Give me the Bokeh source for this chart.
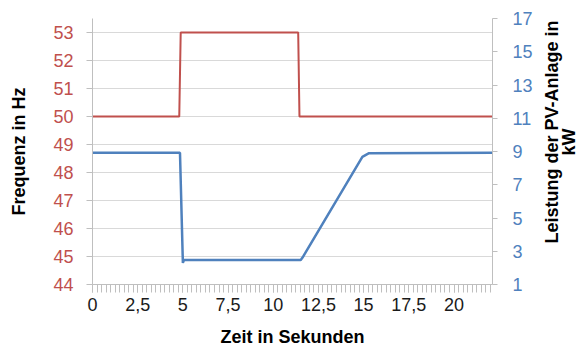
import numpy as np
from math import pi
from bokeh.plotting import figure
from bokeh.layouts import row
from bokeh.models import Range1d, LinearAxis, FixedTicker
from bokeh.core.properties import value
from bokeh.embed import file_html
from bokeh.resources import INLINE

# ---- data ----
time_freq = [0.0, 4.80, 4.88, 11.38, 11.45, 22.13]
freq_hz = [50.0, 50.0, 53.0, 53.0, 50.0, 50.0]

time_power = [0.0, 4.84, 5.00, 5.06, 11.52, 11.62, 14.93, 15.30, 22.13]
power_kw = [8.93, 8.93, 2.30, 2.47, 2.47, 2.62, 8.68, 8.90, 8.93]

x_ticks = [0, 2.5, 5, 7.5, 10, 12.5, 15, 17.5, 20]
x_tick_labels = ["0", "2,5", "5", "7,5", "10", "12,5", "15", "17,5", "20"]
left_ticks = [44, 45, 46, 47, 48, 49, 50, 51, 52, 53]
right_ticks = [1, 3, 5, 7, 9, 11, 13, 15, 17]
right_title_lines = ["Leistung der PV-Anlage in", "kW"]

RED = "#C0504D"
BLUE = "#4F81BD"
AXIS = "#bfbfbf"
GRID = "#d9d9d9"
FONT = "Liberation Sans"

MAIN_W = 540
p = figure(width=MAIN_W, height=349, output_backend="svg", toolbar_location=None,
           title=None,
           x_range=Range1d(0, 22.13), y_range=Range1d(44, 53.5),
           min_border_left=92, min_border_right=48, min_border_top=18, min_border_bottom=64)
p.extra_y_ranges = {"kw": Range1d(1, 17)}
p.outline_line_color = None
p.background_fill_color = "white"
p.border_fill_color = "white"

# x axis
xa = p.xaxis[0]
minor = [round(0.25 * i, 2) for i in range(0, 89)]
xa.ticker = FixedTicker(ticks=x_ticks, minor_ticks=minor)
xa.major_label_overrides = {t: l for t, l in zip(x_ticks, x_tick_labels)}
xa.axis_line_color = AXIS
xa.major_tick_line_color = AXIS
xa.minor_tick_line_color = AXIS
xa.major_tick_out = 8
xa.major_tick_in = 0
xa.minor_tick_out = 8
xa.minor_tick_in = 0
xa.major_label_standoff = 5
xa.major_label_text_font = FONT
xa.major_label_text_font_size = "18px"
xa.major_label_text_color = "#1a1a1a"
xa.axis_label = "Zeit in Sekunden"
xa.axis_label_text_font = FONT
xa.axis_label_text_font_size = "18px"
xa.axis_label_text_font_style = "bold"
xa.axis_label_text_color = "black"
xa.axis_label_standoff = 13

# left axis
ya = p.yaxis[0]
ya.ticker = FixedTicker(ticks=left_ticks)
ya.axis_line_color = AXIS
ya.major_tick_line_color = AXIS
ya.minor_tick_line_color = None
ya.major_tick_out = 6
ya.major_tick_in = 0
ya.major_label_standoff = 13
ya.major_label_text_font = FONT
ya.major_label_text_font_size = "18px"
ya.major_label_text_color = RED
ya.axis_label = "Frequenz in Hz"
ya.axis_label_text_font = FONT
ya.axis_label_text_font_size = "18px"
ya.axis_label_text_font_style = "bold"
ya.axis_label_text_color = "black"
ya.axis_label_standoff = 21

p.xgrid.visible = False
p.ygrid.ticker = FixedTicker(ticks=left_ticks)
p.ygrid.grid_line_color = GRID
p.ygrid.grid_line_width = 1

# right axis
ra = LinearAxis(y_range_name="kw", ticker=FixedTicker(ticks=right_ticks))
ra.axis_line_color = AXIS
ra.major_tick_line_color = AXIS
ra.minor_tick_line_color = None
ra.major_tick_out = 5
ra.major_tick_in = 0
ra.major_label_standoff = 15
ra.major_label_text_font = FONT
ra.major_label_text_font_size = "18px"
ra.major_label_text_color = BLUE
p.add_layout(ra, "right")

p.line(time_freq, freq_hz, line_color=RED, line_width=2)
p.line(time_power, power_kw, line_color=BLUE, line_width=2.5, y_range_name="kw")

# narrow panel holding the rotated right-axis title (reads bottom to top)
SIDE_W = 581 - MAIN_W
q = figure(width=SIDE_W, height=349, output_backend="svg", toolbar_location=None,
           title=None,
           x_range=Range1d(0, SIDE_W), y_range=Range1d(0, 349),
           x_axis_location=None, y_axis_location=None,
           min_border_left=0, min_border_right=0, min_border_top=0, min_border_bottom=0)
q.outline_line_color = None
q.grid.visible = False
q.background_fill_color = "white"
q.border_fill_color = "white"
q.text(x=[11.5, 28.5], y=[200, 187], text=right_title_lines, angle=pi / 2,
       text_align="center", text_baseline="middle",
       text_font=value(FONT), text_font_size="18px", text_font_style="bold",
       text_color="black")

layout = row(p, q)
open("out.html", "w").write(file_html(layout, INLINE))
